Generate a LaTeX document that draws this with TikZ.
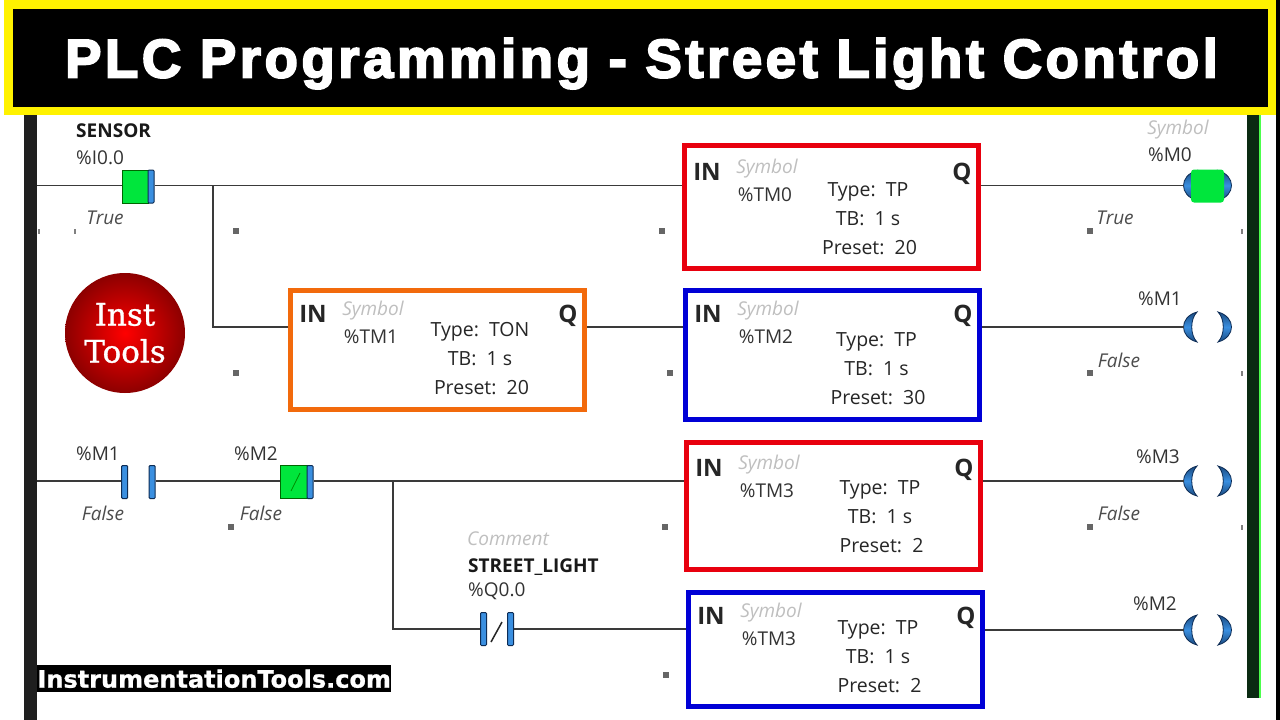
\documentclass[tikz,border=0pt]{standalone}
\usepackage{fontspec}
\setmainfont{Open Sans}
\newfontfamily\headfont{Liberation Sans}[BoldFeatures={LetterSpace=6.55,FakeBold=3.5}]
\newfontfamily\webfont{DejaVu Sans}[BoldFeatures={FakeBold=1}]
\newfontfamily\logofont{DejaVu Serif}[FakeBold=1]
\usetikzlibrary{positioning}

\definecolor{framered}{HTML}{E8000E}
\definecolor{frameblue}{HTML}{0000D6}
\definecolor{frameorange}{HTML}{F26A0C}
\definecolor{barblue}{HTML}{3A8FE0}
\definecolor{bardark}{HTML}{0D2C55}
\definecolor{wiregrey}{HTML}{3A3A3A}
\definecolor{activegreen}{HTML}{00E63C}
\definecolor{railgreen}{HTML}{0A2A12}

\tikzset{
  wire/.style={draw=wiregrey, line width=1.3pt},
  timerbox/.style={draw=#1, line width=5pt, fill=white, anchor=north west, inner sep=0pt},
  pinlabel/.style={font=\fontsize{24}{26}\selectfont\bfseries, text=black!85},
  ghostlabel/.style={font=\fontsize{19}{21}\selectfont\itshape, text=black!25},
  addrlabel/.style={font=\fontsize{19}{21}\selectfont, text=black!80},
  typelabel/.style={font=\fontsize{19.5}{21}\selectfont, text=black!85, text height=13pt, text depth=4pt},
  statelabel/.style={font=\fontsize{19}{21}\selectfont\itshape, text=black!70},
  namelabel/.style={font=\fontsize{19}{21}\selectfont\bfseries, text=black!90},
  contactbar/.style={draw=bardark, line width=1pt, fill=barblue, minimum width=6pt, minimum height=33pt, inner sep=0pt, rounded corners=1pt},
  activefill/.style={draw=black!60!green, line width=1pt, fill=activegreen, minimum height=33pt, inner sep=0pt},
  griphandle/.style={fill=black!60, minimum size=6pt, inner sep=0pt},
  griptick/.style={fill=black!50, minimum width=2pt, minimum height=5pt, inner sep=0pt},
  coilbox/.style={minimum width=48pt, minimum height=32pt, inner sep=0pt},
  coilarc/.style={draw=bardark, line width=0.8pt, top color=bardark!70!barblue, bottom color=bardark!70!barblue, middle color=barblue},
}

% one timer: name, colour, corner, label drop, height, address, type, preset, text offset
\newcommand{\timerblock}[9]{
  \node[timerbox=#2, minimum width=294pt, minimum height=#5pt] (#1) at (#3) {};
  \node[pinlabel] (#1in) at ([shift={(25,#4+29)}]#1.north west) {IN};
  \node[pinlabel] (#1q) at ([shift={(-19,#4+30.5)}]#1.north east) {Q};
  \node[ghostlabel] (#1sym) at ([shift={(85,#4+26)}]#1.north west) {Symbol};
  \node[addrlabel] (#1tm) at ([shift={(83,#4+52)}]#1.north west) {#6};
  \node[typelabel] (#1type) at ([shift={#9}]#1.north west) {Type:\ \ #7};
  \node[typelabel] (#1tb) at ([yshift=-29.3pt]#1type.center) {TB:\ \ 1 s};
  \node[typelabel] (#1pre) at ([shift={(1.5pt,-29.3pt)}]#1tb.center) {Preset:\ \ #8};
}

% output coil: two blue crescents
\newcommand{\coilsym}[2]{
  \node[coilbox] (#1) at (#2) {};
  \begin{scope}[shift={(#1.center)}]
    \path[coilarc] (-11,-15) .. controls (-29,-10) and (-29,10) .. (-11,15) .. controls (-18,8) and (-18,-8) .. (-11,-15) -- cycle;
    \path[coilarc] (10,-15) .. controls (28,-10) and (28,10) .. (10,15) .. controls (17,8) and (17,-8) .. (10,-15) -- cycle;
  \end{scope}
}

\begin{document}
\begin{tikzpicture}[x=1pt, y=-1pt]

  \useasboundingbox (0,0) rectangle (1280,720);
  \fill[white] (0,0) rectangle (1280,720);

  % Title banner
  \node[fill=black, minimum width=4pt, minimum height=720pt, anchor=north west, inner sep=0pt] (edge) at (1276,0) {};
  \node[fill=yellow, minimum width=1272pt, minimum height=115pt, anchor=north west, inner sep=0pt] (frame) at (4,0) {};
  \node[fill=black, minimum width=1255pt, minimum height=98.5pt, anchor=north west, inner sep=0pt] (banner) at (12.7,8.3) {};
  \node[text=white, anchor=base, font=\fontsize{54.5}{60}\headfont\bfseries] (title) at (641.5,77.5) {PLC Programming - Street Light Control};

  % Power rails
  \node[fill=black!88, minimum width=13pt, minimum height=605pt, anchor=north west, inner sep=0pt] (leftrail) at (24,115) {};
  \node[fill=green!70!white, minimum width=13.5pt, minimum height=582.5pt, anchor=north west, inner sep=0pt] (rightglow) at (1247,115) {};
  \node[fill=railgreen, minimum width=12pt, minimum height=582.5pt, anchor=north west, inner sep=0pt] (rightrail) at (1247,115) {};

  % Junctions on the rail and the rungs
  \coordinate (railone) at (37,185.5);
  \coordinate (railtwo) at (37,481);
  \coordinate (branchone) at (213,185.5);
  \coordinate (branchdown) at (213,327);
  \coordinate (branchtwo) at (393,481);

  % Define nodes
  \timerblock{tmzero}{framered}{682,143}{0}{123}{\%TM0}{TP}{20}{(186,48.5)}
  \timerblock{tmone}{frameorange}{288,288}{-3}{119}{\%TM1}{TON}{20}{(192,43.5)}
  \timerblock{tmtwo}{frameblue}{683,288}{-3}{129}{\%TM2}{TP}{30}{(193.5,53.5)}
  \timerblock{tmthree}{framered}{684,440}{-1}{127}{\%TM3}{TP}{2}{(196,49.5)}
  \timerblock{tmfour}{frameblue}{686,590}{-3}{114}{\%TM3}{TP}{2}{(192,39.5)}

  % Contacts
  \node[activefill, minimum width=26pt] (sensorfill) at (135,186.5) {};
  \node[contactbar] (sensorbar) at (151,186.5) {};
  \node[namelabel, anchor=west] (sensorname) at (72.7,131) {SENSOR};
  \node[addrlabel, anchor=west] (sensoraddr) at (72.7,158) {\%I0.0};
  \node[statelabel] (sensorstate) at (105,218) {True};

  \node[contactbar] (mone) at (124.7,482) {};
  \node[contactbar, right=20.5pt of mone] (monebar) {};
  \node[addrlabel] (moneaddr) at (98,454) {\%M1};
  \node[statelabel] (monestate) at (103,513) {False};

  \node[activefill, minimum width=27pt] (mtwofill) at (293.5,482) {};
  \node[contactbar] (mtwobar) at (310,482) {};
  \node[addrlabel] (mtwoaddr) at (256,454) {\%M2};
  \node[statelabel] (mtwostate) at (261,513) {False};
  \draw[line width=0.8pt, green!55!black] (291,491) -- (300,473);

  \node[contactbar] (qzero) at (483.5,629) {};
  \node[contactbar, right=20pt of qzero] (qzerobar) {};
  \node[ghostlabel, anchor=west] (qzeronote) at (463.7,539) {Comment};
  \node[namelabel, anchor=west] (qzeroname) at (464.7,567) {STREET\_LIGHT};
  \node[addrlabel, anchor=west] (qzeroaddr) at (464.7,591) {\%Q0.0};
  \draw[line width=1.5pt, black!85] (491,642) -- (502,622);

  % Coils
  \coilsym{coilzero}{1208,185.5}
  \node[activefill, draw=none, rounded corners=3pt, minimum width=33pt] (coilfill) at (1207.5,186) {};
  \coilsym{coilone}{1208,327}
  \coilsym{coilthree}{1208,481}
  \coilsym{coiltwo}{1208,630}
  \node[ghostlabel] (coilzerosym) at (1178,130) {Symbol};
  \node[addrlabel] (coilzeroaddr) at (1170,155) {\%M0};
  \node[statelabel] (coilzerostate) at (1115,218) {True};
  \node[addrlabel] (coiloneaddr) at (1160,299) {\%M1};
  \node[statelabel] (coilonestate) at (1119,360) {False};
  \node[addrlabel] (coilthreeaddr) at (1158,457) {\%M3};
  \node[statelabel] (coilthreestate) at (1119,513) {False};
  \node[addrlabel] (coiltwoaddr) at (1155,604) {\%M2};

  % Connect nodes
  \draw[wire] (railone) -- (sensorfill.west |- railone);
  \draw[wire] (sensorbar.east |- branchone) -- (branchone) -- (tmzero.west |- branchone);
  \draw[wire] (tmzero.east |- branchone) -- (coilzero.west);
  \draw[wire] (branchone) -- (branchdown) -- (tmone.west |- branchdown);
  \draw[wire] (tmone.east |- branchdown) -- (tmtwo.west |- branchdown);
  \draw[wire] (tmtwo.east |- branchdown) -- (coilone.west);
  \draw[wire] (railtwo) -- (mone.west |- railtwo);
  \draw[wire] (monebar.east |- railtwo) -- (mtwofill.west |- railtwo);
  \draw[wire] (mtwobar.east |- railtwo) -- (branchtwo) -- (tmthree.west |- branchtwo);
  \draw[wire] (tmthree.east |- branchtwo) -- (coilthree.west);
  \draw[wire] (branchtwo) |- (qzero.west);
  \draw[wire] (qzerobar.east) -- (tmfour.west |- qzerobar);
  \draw[wire] (tmfour.east |- coiltwo) -- (coiltwo.west);

  % Logo
  \node[circle, minimum size=120pt, inner sep=0pt, inner color=red, outer color=red!55!black] (logo) at (125,333) {};
  \node[text=white, font=\fontsize{31}{37}\logofont, align=center] (logotext) at (125,333) {Inst\\Tools};

  % Web address
  \node[fill=black, text=white, minimum width=354pt, minimum height=27pt, inner sep=0pt, font=\fontsize{24}{27}\webfont\bfseries, anchor=north west] (webaddr) at (37,665) {InstrumentationTools.com};

  % Grip handles
  \node[griphandle] (gripa) at (236,231) {};
  \node[griphandle] (gripb) at (662,231) {};
  \node[griphandle] (gripc) at (1090,231) {};
  \node[griphandle] (gripd) at (236,373) {};
  \node[griphandle] (gripe) at (670,373) {};
  \node[griphandle] (gripf) at (1090,373) {};
  \node[griphandle] (gripg) at (231,527) {};
  \node[griphandle] (griph) at (665,527) {};
  \node[griphandle] (gripi) at (1090,527) {};
  \node[griphandle] (gripj) at (666,675) {};
  \node[griptick] (ticka) at (39,231) {};
  \node[griptick] (tickb) at (75,231) {};
  \node[griptick] (tickc) at (1242,231) {};
  \node[griptick] (tickd) at (1242,373) {};
  \node[griptick] (ticke) at (1242,527) {};

\end{tikzpicture}
\end{document}
